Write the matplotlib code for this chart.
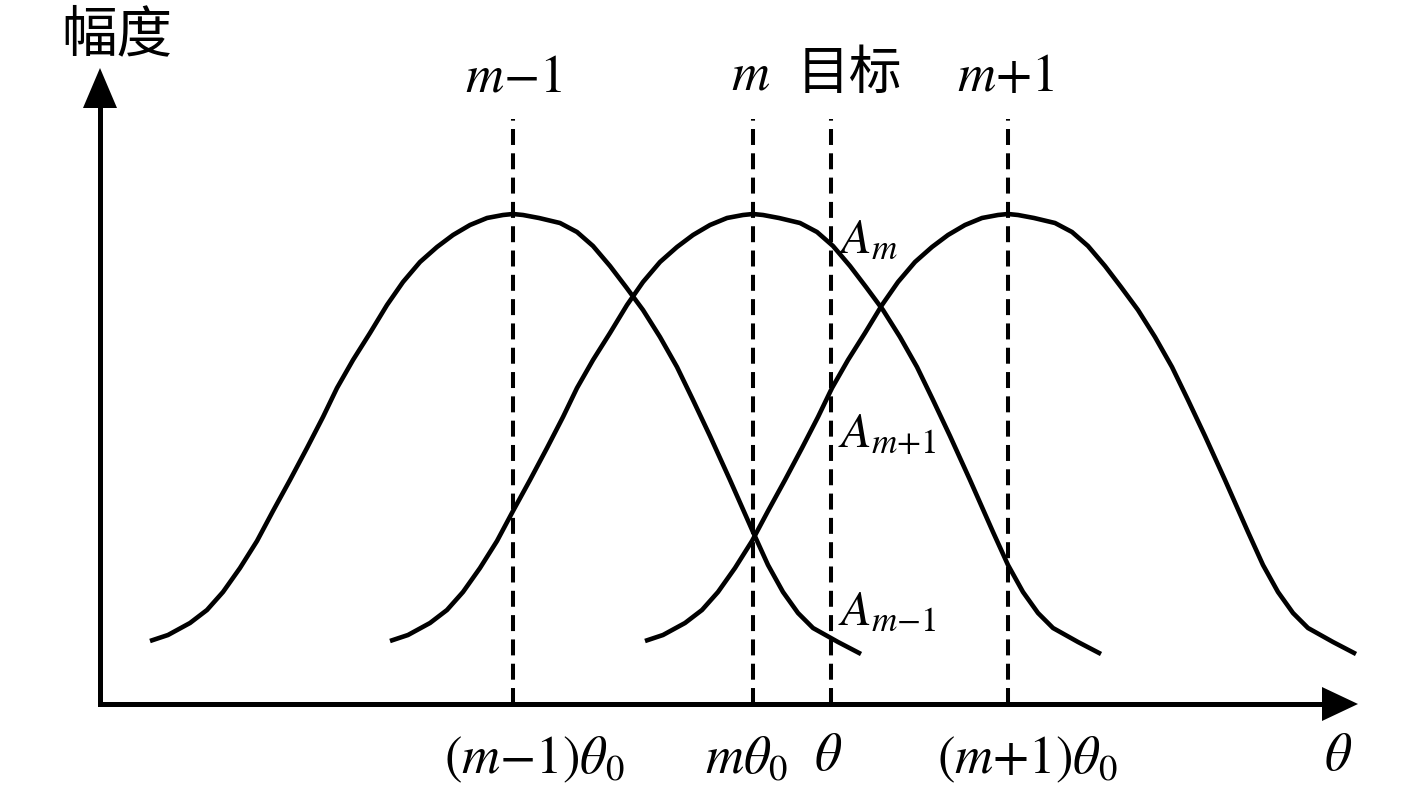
import matplotlib
matplotlib.use("Agg")
import matplotlib.pyplot as plt
import numpy as np

plt.rcParams['mathtext.fontset'] = 'stix'
plt.rcParams['font.family'] = ['Liberation Serif', 'Noto Sans CJK SC', 'DejaVu Sans']
plt.rcParams['lines.scale_dashes'] = False

# ---- data (x = angle position, y = amplitude) ----
beam_centres = [413, 653, 908]          # (m-1)θ0, mθ0, (m+1)θ0
beam_top_labels = [r'$m{-}1$', r'$m$', r'$m{+}1$']
beam_bottom_labels = [r'$(m{-}1)\theta_0$', r'$m\theta_0$', r'$(m{+}1)\theta_0$']
target_theta = 731
# common beam shape: offset from beam centre and amplitude
profile_offset = [-363, -345, -323, -306, -290, -273, -256, -240, -223, -206, -190,
                  -176, -160, -143, -126, -110, -93, -76, -60, -43, -26, -10, 0,
                  10, 26, 47, 64, 80, 97, 113, 130, 147, 164, 180, 197, 217, 240,
                  255, 270, 285, 300, 325, 348]
profile_amp = [63, 69, 81, 94, 112, 136, 163, 193, 224, 256, 287,
               316, 344, 371, 399, 422, 442, 457, 469, 479, 486, 489, 490,
               489, 486, 481, 472, 458, 438, 417, 394, 367, 337, 304, 268, 224, 172,
               139, 112, 91, 76, 62, 50]
amp_labels = [r'$A_m$', r'$A_{m{+}1}$', r'$A_{m{-}1}$']
amp_label_y = [464, 269, 92]

fig = plt.figure(figsize=(14.17, 8.01), dpi=100)
ax = fig.add_axes([0, 0, 1, 1])
ax.set_xlim(-100, 1317)
ax.set_ylim(-97, 704)
ax.axis('off')

off = np.array(profile_offset)
amp = np.array(profile_amp)
for c in beam_centres:
    ax.plot(off + c, amp, color='black', lw=3.3, solid_joinstyle='round',
            solid_capstyle='butt')

# dashed verticals
for xv in beam_centres + [target_theta]:
    ax.plot([xv, xv], [0, 585], color='black', lw=2.9, dashes=(11.5, 6))

# axes with arrows
ax.plot([0, 1225], [0, 0], color='black', lw=3.6, solid_capstyle='projecting')
ax.plot([0, 0], [0, 598], color='black', lw=3.6, solid_capstyle='projecting')
ax.fill([1222, 1258, 1222], [-17, 0, 17], color='black', lw=0)
ax.fill([-17, 0, 17], [596, 636, 596], color='black', lw=0)

# labels
ax.text(17, 668, '幅度', family=['Noto Sans CJK SC'], fontsize=40,
        ha='center', va='center', color='black')
for c, t in zip(beam_centres, beam_top_labels):
    if t == r'$m$':
        ax.text(c - 2, 628, t, fontsize=38, ha='center', va='center')
    else:
        ax.text(c - (3 if c > 800 else 0), 626, t, fontsize=38,
                ha='center', va='center')
ax.text(749, 631, '目标', family=['Noto Sans CJK SC'], fontsize=38,
        ha='center', va='center', color='black')

bottom_x = [434, 646, 927]
for bx, t in zip(bottom_x, beam_bottom_labels):
    ax.text(bx, -56, t, fontsize=38, ha='center', va='center')
ax.text(target_theta - 3, -53, r'$\theta$', fontsize=38, ha='center', va='center')
ax.text(1238, -53, r'$\theta$', fontsize=38, ha='center', va='center')

for t, yv in zip(amp_labels, amp_label_y):
    ax.text(target_theta + 7, yv, t, fontsize=36, ha='left', va='center')

fig.savefig('out.png', dpi=100, facecolor='white')
